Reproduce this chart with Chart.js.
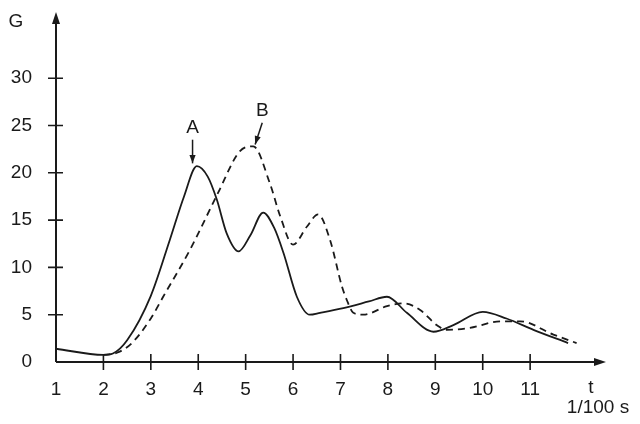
<!DOCTYPE html>
<html>
<head>
<meta charset="utf-8">
<script src="https://cdn.jsdelivr.net/npm/chart.js@4.4.0/dist/chart.umd.min.js"></script>
<style>
  html, body { margin: 0; padding: 0; background: #fff; }
  #wrap { width: 640px; height: 424px; }
</style>
</head>
<body>
<div id="wrap"><canvas id="chart" width="640" height="424"></canvas></div>
<script>
// Curve data (t in 1/100 s, G)
const curveA_t = [1, 2, 2.2, 2.5, 3, 3.4, 3.7, 3.97, 4.2, 4.39, 4.6, 4.85, 5.1, 5.37, 5.6, 5.8, 6.08, 6.35, 6.57, 7.06, 7.6, 7.98, 8.4, 8.96, 9.38, 10, 10.5, 11.07, 11.8];
const curveA_g = [1.4, 0.75, 0.9, 2.3, 7.0, 12.9, 17.5, 20.7, 19.6, 17.2, 13.6, 11.7, 13.4, 15.8, 14.2, 11.5, 6.9, 5.0, 5.2, 5.7, 6.4, 6.9, 5.2, 3.2, 3.9, 5.3, 4.6, 3.4, 2.0];

const curveB_t = [2, 2.3, 2.6, 3, 3.26, 3.83, 4.42, 4.88, 5.16, 5.51, 5.73, 6.0, 6.29, 6.53, 6.78, 7.03, 7.13, 7.27, 7.48, 7.98, 8.33, 8.68, 9.03, 9.24, 9.73, 10.37, 10.79, 11.49, 11.98];
const curveB_g = [0.75, 1.0, 2.0, 4.6, 6.9, 11.9, 17.9, 22.3, 22.8, 18.9, 15.4, 12.4, 14.3, 15.6, 12.9, 8.0, 6.6, 5.2, 5.0, 5.9, 6.2, 5.5, 3.9, 3.4, 3.6, 4.3, 4.3, 2.9, 2.0];

const xTicks = [1, 2, 3, 4, 5, 6, 7, 8, 9, 10, 11];
const yTicks = [0, 5, 10, 15, 20, 25, 30];

// Peak labels: text position and the arrow going down to the peak
const peakLabels = [
    { text: 'A', t: 3.88, g: 24.8, toT: 3.88, toG: 21.0, fromG: 23.5 },
    { text: 'B', t: 5.35, g: 26.6, toT: 5.2, toG: 23.0, fromG: 25.3 }
];

const INK = '#1a1a1a';
const FAMILY = '"Liberation Sans", Arial, sans-serif';
const FONT = '19px ' + FAMILY;

const toPoints = (ts, gs) => ts.map((t, i) => ({ x: t, y: gs[i] }));

// Draws axes with arrows, cross ticks and the free text labels
const axesPlugin = {
    id: 'axes',
    afterDatasetsDraw(chart) {
        const { ctx, chartArea, scales } = chart;
        const x0 = scales.x.getPixelForValue(1);
        const y0 = scales.y.getPixelForValue(0);
        const xEnd = chartArea.right;
        const yEnd = chartArea.top;

        ctx.save();
        ctx.strokeStyle = INK;
        ctx.fillStyle = INK;
        ctx.lineWidth = 2;

        // axis lines
        ctx.beginPath();
        ctx.moveTo(x0, y0);
        ctx.lineTo(x0, yEnd + 6);
        ctx.moveTo(x0, y0);
        ctx.lineTo(xEnd - 6, y0);
        ctx.stroke();

        // arrow heads
        ctx.beginPath();
        ctx.moveTo(x0, yEnd);
        ctx.lineTo(x0 - 4, yEnd + 12);
        ctx.lineTo(x0 + 4, yEnd + 12);
        ctx.closePath();
        ctx.fill();
        ctx.beginPath();
        ctx.moveTo(xEnd, y0);
        ctx.lineTo(xEnd - 12, y0 - 4);
        ctx.lineTo(xEnd - 12, y0 + 4);
        ctx.closePath();
        ctx.fill();

        // tick marks
        ctx.lineWidth = 1.6;
        ctx.beginPath();
        yTicks.slice(1).forEach(v => {
            const py = scales.y.getPixelForValue(v);
            ctx.moveTo(x0 - 8, py);
            ctx.lineTo(x0 + 7, py);
        });
        xTicks.slice(1).forEach(v => {
            const px = scales.x.getPixelForValue(v);
            ctx.moveTo(px, y0 - 8);
            ctx.lineTo(px, y0 + 8);
        });
        ctx.stroke();

        // axis titles
        ctx.font = FONT;
        ctx.textAlign = 'center';
        ctx.textBaseline = 'middle';
        ctx.fillText('G', 16, 22);
        ctx.fillText('t', 591, 388);
        ctx.fillText('1/100 s', 598, 408);

        // peak labels with arrows
        peakLabels.forEach(p => {
            const tx = scales.x.getPixelForValue(p.t);
            const ty = scales.y.getPixelForValue(p.g);
            ctx.fillText(p.text, tx, ty);
            const fy = scales.y.getPixelForValue(p.fromG);
            const hx = scales.x.getPixelForValue(p.toT);
            const hy = scales.y.getPixelForValue(p.toG);
            ctx.lineWidth = 1.5;
            ctx.beginPath();
            ctx.moveTo(tx, fy);
            ctx.lineTo(hx, hy);
            ctx.stroke();
            const ang = Math.atan2(hy - fy, hx - tx);
            ctx.beginPath();
            ctx.moveTo(hx, hy);
            ctx.lineTo(hx - 9 * Math.cos(ang - 0.35), hy - 9 * Math.sin(ang - 0.35));
            ctx.lineTo(hx - 9 * Math.cos(ang + 0.35), hy - 9 * Math.sin(ang + 0.35));
            ctx.closePath();
            ctx.fill();
        });
        ctx.restore();
    }
};

new Chart(document.getElementById('chart').getContext('2d'), {
    type: 'line',
    data: {
        datasets: [
            {
                label: 'A',
                data: toPoints(curveA_t, curveA_g),
                borderColor: INK,
                borderWidth: 1.8,
                pointRadius: 0,
                cubicInterpolationMode: 'monotone',
                fill: false
            },
            {
                label: 'B',
                data: toPoints(curveB_t, curveB_g),
                borderColor: INK,
                borderWidth: 1.8,
                borderDash: [7, 5],
                pointRadius: 0,
                cubicInterpolationMode: 'monotone',
                fill: false
            }
        ]
    },
    options: {
        responsive: false,
        animation: false,
        events: [],
        layout: { padding: { top: 12, right: 34, left: 0, bottom: 0 } },
        plugins: {
            legend: { display: false },
            tooltip: { enabled: false }
        },
        scales: {
            x: {
                type: 'linear',
                min: 1,
                max: 12.6,
                grid: { display: false, drawTicks: false },
                border: { display: false },
                afterBuildTicks: s => { s.ticks = xTicks.map(v => ({ value: v })); },
                afterFit: s => {
                    s.height = 62;
                    s.paddingLeft = 0;
                    s.paddingRight = 0;
                },
                ticks: {
                    color: INK,
                    font: { family: FAMILY, size: 19 },
                    padding: 16,
                    maxRotation: 0,
                    autoSkip: false
                }
            },
            y: {
                type: 'linear',
                min: 0,
                max: 37,
                grid: { display: false, drawTicks: false },
                border: { display: false },
                afterBuildTicks: s => { s.ticks = yTicks.map(v => ({ value: v })); },
                afterFit: s => {
                    s.width = 56;
                    s.paddingTop = 0;
                    s.paddingBottom = 0;
                },
                ticks: {
                    color: INK,
                    font: { family: FAMILY, size: 19 },
                    padding: 24
                }
            }
        }
    },
    plugins: [axesPlugin]
});
</script>
</body>
</html>
